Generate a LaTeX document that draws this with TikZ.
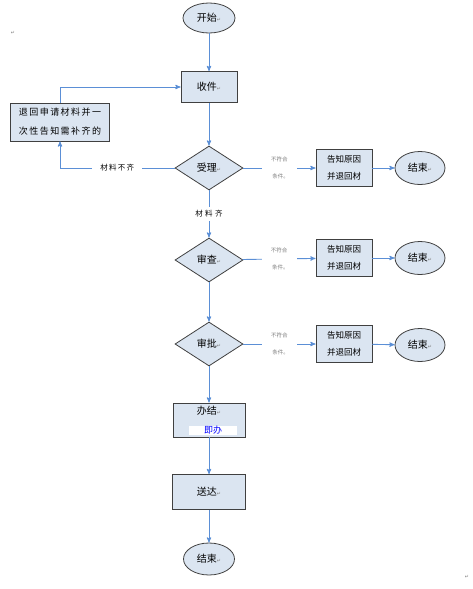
\documentclass[tikz,border=0pt]{standalone}
\usepackage{fontspec}
\setmainfont{Noto Sans CJK SC}
\newfontfamily\symfont{DejaVu Sans}
\usepackage{xcolor}
\usepackage{tikz}
\usetikzlibrary{calc,positioning,shapes,shapes.geometric,arrows}

\definecolor{boxfill}{HTML}{DBE5F1}
\definecolor{boxline}{HTML}{404040}
\definecolor{flowblue}{HTML}{5B8FD6}
\newcommand{\retmark}{{\symfont\fontsize{5}{5}\selectfont\color{gray}↵}}

\begin{document}
\begin{tikzpicture}[
		x=1pt, y=-1pt,
		>=stealth',
		proc/.style={rectangle, draw=boxline, fill=boxfill, line width=0.9pt,
			inner sep=0pt, font=\fontsize{10}{12}\selectfont},
		term/.style={ellipse, draw=boxline, fill=boxfill, line width=0.8pt,
			minimum width=51pt, minimum height=32pt, inner sep=0pt,
			font=\fontsize{10}{12}\selectfont},
		decide/.style={diamond, draw=boxline, fill=boxfill, line width=0.8pt,
			minimum width=68pt, minimum height=44pt, inner sep=0pt,
			font=\fontsize{10}{12}\selectfont},
		notice/.style={proc, minimum width=56pt, minimum height=37pt, align=center,
			font=\fontsize{8.5}{17}\selectfont},
		flow/.style={->, draw=flowblue, line width=0.9pt},
		gaplabel/.style={fill=white, inner xsep=8pt, font=\fontsize{7.5}{9}\selectfont},
		nofit/.style={fill=white, inner xsep=8pt, text=gray, align=center,
			font=\fontsize{5.5}{17}\selectfont}
	]
	\useasboundingbox (0,0) rectangle (472,589);

	% main column
	\node[term, minimum width=52pt, minimum height=30pt] (start) at (209,18) {开始\retmark};
	\node[proc, minimum width=56pt, minimum height=31pt] (shoujian) at (209,87) {收件\retmark};
	\node[proc, minimum width=99pt, minimum height=38pt, align=center,
		font=\fontsize{9}{19}\selectfont\addfontfeature{LetterSpace=16}] (tuihui) at (60,122)
		{退回申请材料并一\\次性告知需补齐的};
	\node[decide] (shouli)  at (209,168) {受理\retmark};
	\node[decide] (shencha) at (209,260) {审查\retmark};
	\node[decide] (shenpi)  at (209,344) {审批\retmark};
	\node[proc, minimum width=72pt, minimum height=34pt] (banjie) at (209,420) {};
	\node[font=\fontsize{10}{12}\selectfont, inner sep=0pt] (banjietxt) at (209,411) {办结\retmark};
	\node[fill=white, text=blue, minimum width=48pt, minimum height=9pt, inner sep=0pt,
		font=\fontsize{9}{9}\selectfont] (jiban) at (213,430) {即办};
	\node[proc, minimum width=73pt, minimum height=35pt] (songda) at (209,492) {送达\retmark};
	\node[term] (end4) at (209,559) {结束\retmark};

	% right branches
	\node[notice] (gz1) at (344,168) {告知原因\\并退回材};
	\node[notice] (gz2) at (344,258) {告知原因\\并退回材};
	\node[notice] (gz3) at (344,344) {告知原因\\并退回材};
	\node[term, minimum width=50pt, minimum height=33pt] (end1) at (420,168) {结束\retmark};
	\node[term, minimum width=50pt, minimum height=33pt] (end2) at (420,258) {结束\retmark};
	\node[term, minimum width=50pt, minimum height=33pt] (end3) at (420,345) {结束\retmark};

	% stray paragraph marks
	\node[inner sep=0pt] (mark1) at (13,33) {\retmark};
	\node[inner sep=0pt] (mark2) at (467,577) {\retmark};

	\draw[flow] (start) -- (shoujian);
	\draw[flow] (shoujian) -- (shouli);
	\draw[flow] (shouli) -- node[gaplabel] {材\,\,料\,\,齐} (shencha);
	\draw[flow] (shencha) -- (shenpi);
	\draw[flow] (shenpi) -- (banjie);
	\draw[flow] (banjie) -- (songda);
	\draw[flow] (songda) -- (end4);

	\draw[flow] (shouli) -- node[gaplabel] {材\,料\,不\,齐} (shouli.west -| tuihui.south) -- (tuihui);
	\draw[flow] (tuihui) |- (shoujian);

	\draw[flow] (shouli)  -- node[nofit] {不符合\\\ \ 条件。} (gz1);
	\draw[flow] (shencha) -- node[nofit] {不符合\\\ \ 条件。} (gz2);
	\draw[flow] (shenpi)  -- node[nofit] {不符合\\\ \ 条件。} (gz3);
	\draw[flow] (gz1) -- (end1);
	\draw[flow] (gz2) -- (end2);
	\draw[flow] (gz3) -- (end3);
\end{tikzpicture}
\end{document}
